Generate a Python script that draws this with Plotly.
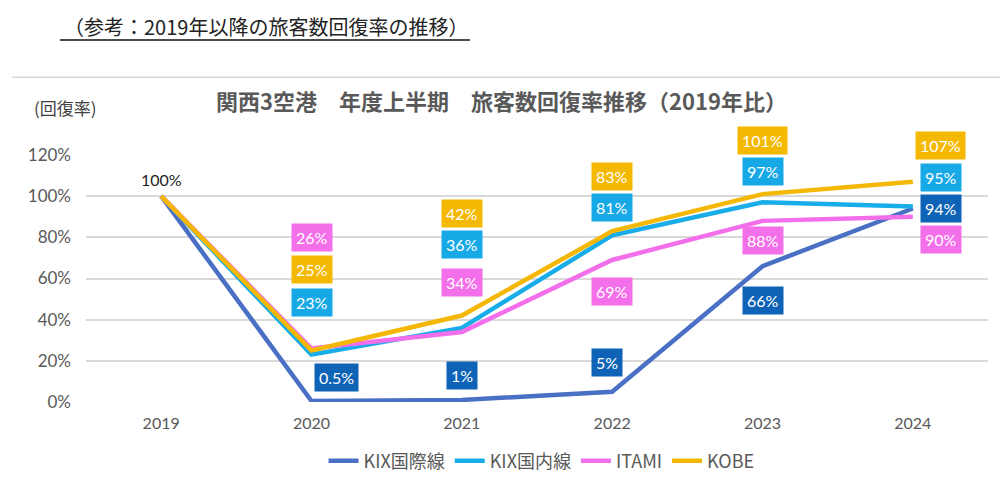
import plotly.graph_objects as go

years = ["2019", "2020", "2021", "2022", "2023", "2024"]
series_names = ["KIX国際線", "KIX国内線", "ITAMI", "KOBE"]
kix_intl = [100, 0.5, 1, 5, 66, 94]
kix_dom = [100, 23, 36, 81, 97, 95]
itami = [100, 26, 34, 69, 88, 90]
kobe = [100, 25, 42, 83, 101, 107]
label_text = {
    "KIX国際線": ["", "0.5%", "1%", "5%", "66%", "94%"],
    "KIX国内線": ["", "23%", "36%", "81%", "97%", "95%"],
    "ITAMI": ["", "26%", "34%", "69%", "88%", "90%"],
    "KOBE": ["", "25%", "42%", "83%", "101%", "107%"],
}
y_ticks = [0, 20, 40, 60, 80, 100, 120]
y_tick_labels = ["0%", "20%", "40%", "60%", "80%", "100%", "120%"]

values = {"KIX国際線": kix_intl, "KIX国内線": kix_dom, "ITAMI": itami, "KOBE": kobe}
line_colors = {"KIX国際線": "#4A70C6", "KIX国内線": "#18ACE8", "ITAMI": "#F26EEA", "KOBE": "#F4B704"}
box_colors = {"KIX国際線": "#0F63B6", "KIX国内線": "#17A8E6", "ITAMI": "#F46FEA", "KOBE": "#F5B800"}
# pixel offsets (xshift, yshift) of each value label from its point
label_shift = {
    "KIX国際線": [None, (25, 23), (0, 24), (-5, 29), (0, -34), (28, 0)],
    "KIX国内線": [None, (0, 52), (0, 83), (0, 28), (0, 31), (28, 29)],
    "ITAMI": [None, (0, 111), (0, 50), (0, -32), (0, -20), (28, -23)],
    "KOBE": [None, (0, 81), (0, 102), (0, 55), (0, 54), (28, 36)],
}

font_fam = "Lato, 'Noto Sans CJK JP', sans-serif"
jp_font = "'Noto Sans CJK JP', sans-serif"

fig = go.Figure()
for name in series_names:
    fig.add_trace(go.Scatter(
        x=years, y=values[name], mode="lines", name=name,
        line=dict(color=line_colors[name], width=4.5),
    ))

annotations = []
for name in series_names:
    for i, yr in enumerate(years):
        sh = label_shift[name][i]
        if sh is None:
            continue
        annotations.append(dict(
            x=i, y=values[name][i], xref="x", yref="y",
            text=label_text[name][i], showarrow=False,
            xshift=sh[0], yshift=sh[1],
            font=dict(color="white", size=16, family=font_fam),
            bgcolor=box_colors[name], borderpad=4,
        ))
annotations.append(dict(
    x=0, y=kix_intl[0], xref="x", yref="y", text="100%", showarrow=False,
    yshift=17, font=dict(color="#222222", size=16, family=font_fam),
))
annotations.append(dict(
    x=-0.027, y=1.52, xref="paper", yref="paper", xanchor="left", yanchor="middle",
    text="（参考：2019年以降の旅客数回復率の推移）", showarrow=False,
    font=dict(color="#222222", size=20, family=jp_font),
))
annotations.append(dict(
    x=0.461, y=1.222, xref="paper", yref="paper", xanchor="center", yanchor="middle",
    text="<b>関西3空港　年度上半期　旅客数回復率推移（2019年比）</b>", showarrow=False,
    font=dict(color="#595959", size=22, family=jp_font),
))
annotations.append(dict(
    x=-0.023, y=1.194, xref="paper", yref="paper", xanchor="center", yanchor="middle",
    text="(回復率)", showarrow=False,
    font=dict(color="#404040", size=17, family=jp_font),
))

shapes = [
    dict(type="line", xref="paper", yref="paper", x0=-0.0288, x1=0.4257, y0=1.466, y1=1.466,
         line=dict(color="#111111", width=1.5)),
    dict(type="line", xref="paper", yref="paper", x0=-0.082, x1=1.015, y0=1.3145, y1=1.3145,
         line=dict(color="#D9D9D9", width=1.5)),
]

fig.update_layout(
    width=1000, height=490,
    margin=dict(l=86, r=12, t=155, b=87),
    paper_bgcolor="white", plot_bgcolor="white",
    font=dict(family=font_fam, color="#595959"),
    xaxis=dict(type="category", range=[-0.5, 5.5], showgrid=False, zeroline=False,
               showline=False, ticks="", tickfont=dict(size=16, color="#595959"),
               ticklabelstandoff=10),
    yaxis=dict(range=[0, 120], tickvals=y_ticks, ticktext=y_tick_labels,
               showgrid=True, gridcolor="#D9D9D9", gridwidth=1.5, zeroline=False,
               showline=False, ticks="", tickfont=dict(size=17, color="#595959"),
               ticklabelstandoff=14),
    legend=dict(orientation="h", x=0.505, xanchor="center", y=-0.234, yanchor="middle",
                font=dict(size=18, color="#595959", family=jp_font),
                itemwidth=30, tracegroupgap=0),
    annotations=annotations,
    shapes=shapes,
    showlegend=True,
)

fig.write_html("out.html")
